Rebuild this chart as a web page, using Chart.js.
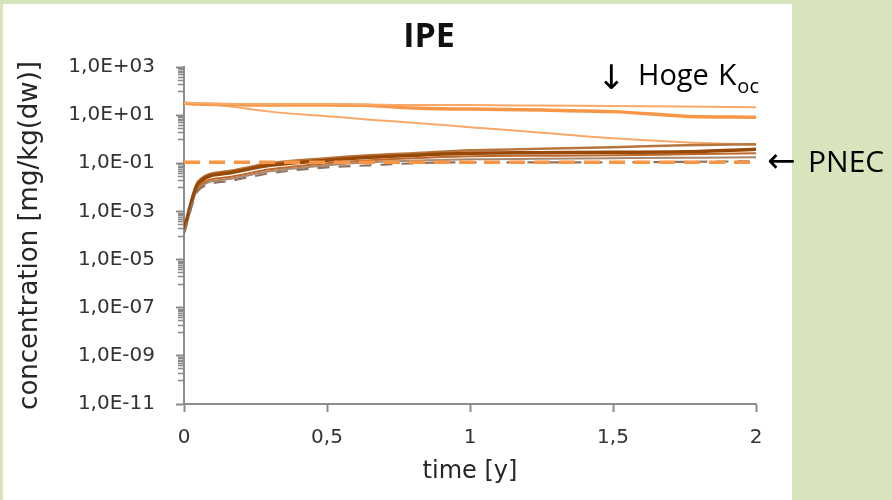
<!DOCTYPE html>
<html><head><meta charset="utf-8">
<script src="https://cdn.jsdelivr.net/npm/chart.js@4.4.0/dist/chart.umd.min.js"></script>
<style>
html,body{margin:0;padding:0;background:#d8e4bc;width:892px;height:500px;overflow:hidden}
#panel{position:absolute;left:3px;top:4px;width:789px;height:496px;background:#fff}
#c{position:absolute;left:0;top:0}
</style></head><body>
<div id="panel"></div>
<canvas id="c" width="892" height="500"></canvas>
<script>
// ---- data ----
const timeYears = [0, 0.05, 0.15, 0.3, 0.5, 0.65, 0.8, 1, 1.25, 1.5, 1.75, 2];
const orangeTop   = [31.6, 31.6, 28.7, 28.7, 28.7, 27.4, 26.1, 26.1, 24.9, 23.7, 22.6, 21.5];
const orangeThick = [31.6, 28.7, 27.4, 26.1, 26.1, 24.9, 19.6, 17.8, 16.2, 14.0, 9.1, 8.25];
const orangeDecay = [31.6, 30.2, 23.7, 14.0, 9.1, 6.5, 4.87, 3.16, 1.87, 1.10, 0.75, 0.59];
const pnec        = [0.11, 0.11, 0.11, 0.11, 0.11, 0.11, 0.11, 0.11, 0.11, 0.11, 0.11, 0.11];
const brown1 = [1.61e-4, 0.0178, 0.0464, 0.1, 0.162, 0.215, 0.261, 0.348, 0.402, 0.464, 0.562, 0.619];
const brown2 = [1.78e-4, 0.0147, 0.0383, 0.0825, 0.133, 0.178, 0.215, 0.261, 0.274, 0.287, 0.30, 0.383];
const brown3 = [1.47e-4, 0.011, 0.0261, 0.0562, 0.1, 0.133, 0.162, 0.196, 0.205, 0.215, 0.237, 0.261];
const brown4 = [1.33e-4, 0.00909, 0.0215, 0.0464, 0.0825, 0.110, 0.127, 0.147, 0.154, 0.162, 0.170, 0.178];
const brown5 = [1.21e-4, 0.0075, 0.0178, 0.0383, 0.0681, 0.0825, 0.1, 0.110, 0.110, 0.110, 0.115, 0.121];

const xTickValues = [0, 0.5, 1, 1.5, 2];
const xTickLabels = ['0', '0,5', '1', '1,5', '2'];
const yTickValues = [1e-11, 1e-9, 1e-7, 1e-5, 1e-3, 1e-1, 1e1, 1e3];
const yTickLabels = ['1,0E-11', '1,0E-09', '1,0E-07', '1,0E-05', '1,0E-03', '1,0E-01', '1,0E+01', '1,0E+03'];
const yMinorFactors = [0.1, 0.2, 0.3, 0.4, 0.5, 0.6, 0.7, 0.8, 0.9];

const chartTitle = 'IPE';
const xTitle = 'time [y]';
const yTitle = 'concentration [mg/kg(dw)]';

// ---- helpers ----
const pts = arr => timeYears.map((t, i) => ({x: t, y: arr[i]}));
const AXIS = '#8c8c8c';

const minorTicks = {
  id: 'minorTicks',
  afterDraw(chart) {
    const y = chart.scales.y, ctx = chart.ctx;
    const x0 = chart.chartArea.left;
    ctx.save();
    ctx.strokeStyle = AXIS;
    ctx.lineWidth = 1.6;
    yTickValues.forEach(m => {
      yMinorFactors.forEach(f => {
        const v = m * f;
        if (v < y.min) return;
        const py = Math.round(y.getPixelForValue(v)) + 0.5;
        ctx.beginPath();
        ctx.moveTo(x0 - 6, py);
        ctx.lineTo(x0, py);
        ctx.stroke();
      });
    });
    ctx.restore();
  }
};

const textOverlay = {
  id: 'textOverlay',
  afterDraw(chart) {
    const ctx = chart.ctx;
    ctx.save();
    ctx.fillStyle = '#111';
    ctx.textAlign = 'center';
    ctx.textBaseline = 'alphabetic';
    ctx.font = 'bold 34px "Open Sans"';
    ctx.fillText(chartTitle, 429, 47);
    ctx.textAlign = 'left';
    ctx.fillStyle = '#000';
    ctx.font = '34px "DejaVu Sans"';
    ctx.fillText('\u2193', 597, 89);
    ctx.font = '29px "Open Sans"';
    ctx.fillText('Hoge', 638, 85);
    ctx.font = '30px "Open Sans"';
    ctx.fillText('K', 718, 85);
    const kw = ctx.measureText('K').width;
    ctx.font = '20px "Open Sans"';
    ctx.fillText('oc', 718 + kw + 1, 93);
    const py = chart.scales.y.getPixelForValue(pnec[pnec.length - 1]);
    ctx.font = '34px "DejaVu Sans"';
    ctx.textBaseline = 'middle';
    ctx.fillText('\u2190', 767, py + 1);
    ctx.font = '30px "Open Sans"';
    ctx.fillText('PNEC', 808, py + 1);
    ctx.restore();
  }
};

const line = (data, color, width, dash) => ({
  data: pts(data), borderColor: color, borderWidth: width,
  borderDash: dash || [], pointRadius: 0, fill: false,
  cubicInterpolationMode: 'monotone'
});

new Chart(document.getElementById('c'), {
  type: 'line',
  data: {
    datasets: [
      line(pnec, '#f79646', 3.5, [16, 9]),
      line(brown5, '#8f735e', 2.2, [12, 9]),
      line(brown2, '#984807', 3.5),
      line(brown1, '#b8763f', 2.5),
      line(brown3, '#bf6a2a', 2),
      line(brown4, '#a88a72', 2),
      line(orangeTop, '#f9a867', 2),
      line(orangeThick, '#f79646', 3.5),
      line(orangeDecay, '#f9a867', 2)
    ]
  },
  plugins: [minorTicks, textOverlay],
  options: {
    responsive: false,
    animation: false,
    events: [],
    layout: {padding: {top: 67, right: 136, bottom: 0, left: 0}},
    plugins: {legend: {display: false}, title: {display: false}, tooltip: {enabled: false}},
    scales: {
      x: {
        type: 'linear', min: 0, max: 2,
        afterBuildTicks: ax => { ax.ticks = xTickValues.map(v => ({value: v})); },
        afterFit: ax => { ax.height = 96; },
        border: {display: true, color: AXIS, width: 2},
        grid: {drawOnChartArea: false, drawTicks: true, tickLength: 8, tickColor: AXIS, tickWidth: 2},
        ticks: {autoSkip: false, maxRotation: 0, padding: 14, color: '#333',
                font: {family: 'DejaVu Sans', size: 20},
                callback: (v, i) => xTickLabels[i]},
        title: {display: true, text: xTitle, color: '#262626',
                font: {family: 'DejaVu Sans', size: 24}, padding: {top: 0, bottom: 14}}
      },
      y: {
        type: 'logarithmic', min: 1e-11, max: 1e3,
        afterBuildTicks: ax => { ax.ticks = yTickValues.map(v => ({value: v})); },
        afterFit: ax => { ax.width = 184; },
        border: {display: true, color: AXIS, width: 2},
        grid: {drawOnChartArea: false, drawTicks: true, tickLength: 8, tickColor: AXIS, tickWidth: 2},
        ticks: {autoSkip: false, padding: 21, color: '#333',
                font: {family: 'DejaVu Sans', size: 20},
                callback: (v, i) => yTickLabels[i]},
        title: {display: true, text: yTitle, color: '#262626',
                font: {family: 'DejaVu Sans', size: 26}, padding: {top: 15, bottom: 0}}
      }
    }
  }
});
</script>
</body></html>
